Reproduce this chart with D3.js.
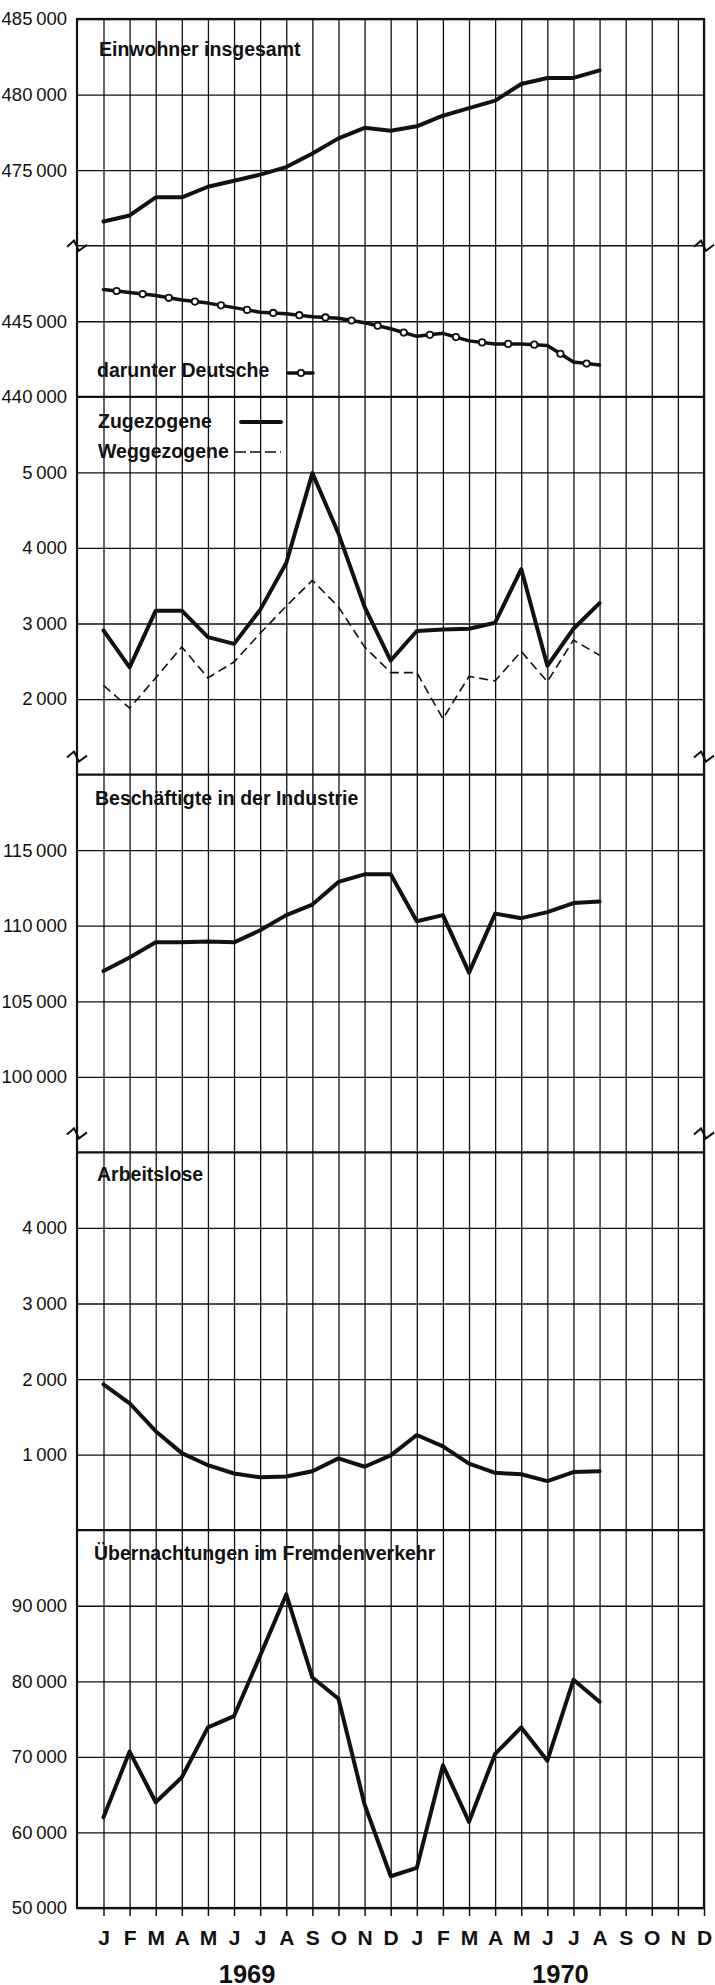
<!DOCTYPE html>
<html lang="de">
<head>
    <meta charset="UTF-8">
    <title>Bevölkerung, Wanderung, Industrie, Arbeitslose, Fremdenverkehr 1969/1970</title>
    <style>
        body { margin: 0; background: #fff; }
        svg text { font-family: "Liberation Sans", Arial, sans-serif; fill: #111; }
        .title { font-size: 19.5px; font-weight: bold; }
        .grid .tick text { font-size: 18.5px; }
        .grid line, .vgrid line { stroke: #111; stroke-width: 1.3; }
        .months .tick text { font-size: 21px; font-weight: bold; }
        .months line { stroke: #111; stroke-width: 1.5; }
        .frame { stroke: #111; stroke-width: 2.2; fill: none; }
        .series { fill: none; stroke: #111; stroke-width: 4; stroke-linejoin: round; stroke-linecap: round; }
        .dashed { fill: none; stroke: #111; stroke-width: 1.6; stroke-dasharray: 9,5; }
        .brk { fill: none; stroke: #111; stroke-width: 2; }
    </style>
</head>
<body>
<div id="chart"></div>

<script src="https://d3js.org/d3.v7.min.js"></script>
<script>

    // month letters, J 1969 .. D 1970
    var monthLabels = ["J","F","M","A","M","J","J","A","S","O","N","D",
                       "J","F","M","A","M","J","J","A","S","O","N","D"];
    var years = ["1969", "1970"];

    // values J 1969 .. A 1970 (20 months)
    var einwohner = [471600, 472000, 473200, 473200, 473900, 474300, 474700, 475200, 476100, 477100,
                     477800, 477600, 477900, 478600, 479100, 479600, 480700, 481100, 481100, 481600];
    var deutsche = [447100, 446900, 446700, 446400, 446200, 445900, 445600, 445500, 445300, 445200,
                    444900, 444500, 444000, 444200, 443700, 443500, 443500, 443400, 442300, 442100];
    var zugezogene = [2910, 2420, 3170, 3170, 2820, 2730, 3180, 3800, 4990, 4190,
                      3220, 2510, 2900, 2920, 2930, 3010, 3720, 2440, 2930, 3270];
    var weggezogene = [2180, 1880, 2280, 2690, 2280, 2490, 2870, 3230, 3570, 3220,
                       2690, 2350, 2350, 1740, 2300, 2240, 2630, 2230, 2780, 2580];
    var beschaeftigte = [107000, 107900, 108900, 108900, 108950, 108900, 109700, 110700, 111400, 112900,
                         113400, 113400, 110300, 110700, 106900, 110800, 110500, 110900, 111500, 111600];
    var arbeitslose = [1930, 1680, 1310, 1020, 860, 750, 700, 710, 780, 950,
                       840, 990, 1260, 1110, 880, 760, 740, 650, 770, 780];
    var uebernachtungen = [62000, 70700, 64000, 67300, 73900, 75400, 83400, 91500, 80500, 77700,
                           63700, 54200, 55300, 68900, 61400, 70400, 73900, 69500, 80200, 77300];

    // tick values per panel
    var ticksEinw = [475000, 480000, 485000];
    var ticksDeut = [440000, 445000];
    var ticksWand = [2000, 3000, 4000, 5000];
    var ticksInd = [100000, 105000, 110000, 115000];
    var ticksArb = [1000, 2000, 3000, 4000];
    var ticksUeb = [50000, 60000, 70000, 80000, 90000];

    // layout
    var gridTop = 19, unit = 75.56, left = 77, right = 704;
    function panelTop(i) { return gridTop + i * 5 * unit; }
    function panelBottom(i) { return gridTop + (i + 1) * 5 * unit; }
    var gridBottom = panelBottom(4);

    var svg = d3.select("#chart")
      .append("svg")
        .attr("width", 715)
        .attr("height", 1985);

    var fmt = d3.formatLocale({decimal: ",", thousands: "\u2009", grouping: [3], currency: ["", ""]}).format(",");

    // scales
    var x = d3.scalePoint().domain(d3.range(24)).range([103.5, right]);
    var yEinw = d3.scaleLinear().domain([470000, 485000]).range([panelTop(0) + 3 * unit, panelTop(0)]);
    var yDeut = d3.scaleLinear().domain([440000, 450000]).range([panelBottom(0), panelTop(0) + 3 * unit]);
    var yWand = d3.scaleLinear().domain([1000, 6000]).range([panelBottom(1), panelTop(1)]);
    var yInd = d3.scaleLinear().domain([95000, 120000]).range([panelBottom(2), panelTop(2)]);
    var yArb = d3.scaleLinear().domain([0, 5000]).range([panelBottom(3), panelTop(3)]);
    var yUeb = d3.scaleLinear().domain([50000, 100000]).range([panelBottom(4), panelTop(4)]);

    // vertical grid
    svg.append("g")
        .attr("class", "vgrid")
        .attr("transform", "translate(0," + gridBottom + ")")
        .call(d3.axisBottom(x).tickSize(-(gridBottom - gridTop)).tickFormat(""))
        .call(function(g) { g.select(".domain").remove(); });

    // month ticks + labels
    svg.append("g")
        .attr("class", "months")
        .attr("transform", "translate(0," + gridBottom + ")")
        .call(d3.axisBottom(x).tickSize(8).tickPadding(14).tickFormat(function(i) { return monthLabels[i]; }))
        .call(function(g) { g.select(".domain").remove(); });

    // horizontal grid with labels
    function hGrid(scale, ticks) {
        svg.append("g")
            .attr("class", "grid")
            .attr("transform", "translate(" + left + ",0)")
            .call(d3.axisLeft(scale).tickValues(ticks).tickSize(-(right - left)).tickPadding(10).tickFormat(fmt))
            .call(function(g) { g.select(".domain").remove(); });
    }
    hGrid(yEinw, ticksEinw);
    hGrid(yDeut, ticksDeut);
    hGrid(yWand, ticksWand);
    hGrid(yInd, ticksInd);
    hGrid(yArb, ticksArb);
    hGrid(yUeb, ticksUeb);

    // frame and panel separators
    svg.append("rect")
        .attr("class", "frame")
        .attr("x", left).attr("y", gridTop)
        .attr("width", right - left).attr("height", gridBottom - gridTop);
    svg.selectAll(".sep")
      .data([1, 2, 3, 4])
      .enter()
      .append("line")
        .attr("class", "frame")
        .attr("x1", left).attr("x2", right)
        .attr("y1", function(d) { return panelTop(d); })
        .attr("y2", function(d) { return panelTop(d); });

    // axis breaks
    var breakY = [yEinw(470000), panelBottom(1) - 18, panelBottom(2) - 19];
    svg.append("line")
        .attr("class", "frame")
        .style("stroke-width", 1.5)
        .attr("x1", left).attr("x2", right)
        .attr("y1", breakY[0]).attr("y2", breakY[0]);
    function zigzag(cx, cy) {
        return "M" + (cx - 10) + "," + (cy + 1) + "L" + (cx - 3) + "," + (cy - 5) +
               "L" + (cx + 2) + "," + (cy + 5) + "L" + (cx + 10) + "," + (cy - 1);
    }
    breakY.forEach(function(by) {
        svg.append("path").attr("class", "brk").attr("d", zigzag(left, by));
        svg.append("path").attr("class", "brk").attr("d", zigzag(right, by));
    });

    // series
    function drawLine(data, y, cls) {
        return svg.append("path")
            .datum(data)
            .attr("class", cls)
            .attr("d", d3.line()
                .x(function(d, i) { return x(i); })
                .y(function(d) { return y(d); }));
    }
    drawLine(einwohner, yEinw, "series");
    drawLine(deutsche, yDeut, "series").style("stroke-width", 3.5);
    drawLine(weggezogene, yWand, "dashed");
    drawLine(zugezogene, yWand, "series");
    drawLine(beschaeftigte, yInd, "series");
    drawLine(arbeitslose, yArb, "series");
    drawLine(uebernachtungen, yUeb, "series");

    // circles between the months of the Deutsche line
    var mids = d3.range(deutsche.length - 1).map(function(i) {
        return [(x(i) + x(i + 1)) / 2, (yDeut(deutsche[i]) + yDeut(deutsche[i + 1])) / 2];
    });
    svg.selectAll(".mark")
      .data(mids)
      .enter()
      .append("circle")
        .attr("cx", function(d) { return d[0]; })
        .attr("cy", function(d) { return d[1]; })
        .attr("r", 3.2)
        .style("fill", "#fff")
        .style("stroke", "#111")
        .style("stroke-width", 1.8);

    // titles and legends
    function title(tx, ty, txt) {
        svg.append("text").attr("class", "title").attr("x", tx).attr("y", ty).text(txt);
    }
    title(99, 56, "Einwohner insgesamt");
    title(97, 377, "darunter Deutsche");
    title(98, 428, "Zugezogene");
    title(98, 458, "Weggezogene");
    title(95, 805, "Beschäftigte in der Industrie");
    title(97, 1181, "Arbeitslose");
    title(94, 1560, "Übernachtungen im Fremdenverkehr");

    svg.append("line").attr("class", "series")
        .attr("x1", 288).attr("x2", 313).attr("y1", 373).attr("y2", 373)
        .style("stroke-width", 3.5);
    svg.append("circle")
        .attr("cx", 301).attr("cy", 373).attr("r", 3.2)
        .style("fill", "#fff").style("stroke", "#111").style("stroke-width", 1.8);
    svg.append("line").attr("class", "series")
        .attr("x1", 241).attr("x2", 281).attr("y1", 422).attr("y2", 422);
    svg.append("line").attr("class", "dashed")
        .attr("x1", 235).attr("x2", 281).attr("y1", 452).attr("y2", 452)
        .style("stroke-dasharray", "11,4");

    // years under the months
    svg.selectAll(".year")
      .data(years)
      .enter()
      .append("text")
        .attr("x", function(d, i) { return (x(i * 12) + x(i * 12 + 11)) / 2; })
        .attr("y", 1983)
        .attr("text-anchor", "middle")
        .style("font-size", "25.5px")
        .style("font-weight", "bold")
        .text(function(d) { return d; });

</script>

</body>
</html>
